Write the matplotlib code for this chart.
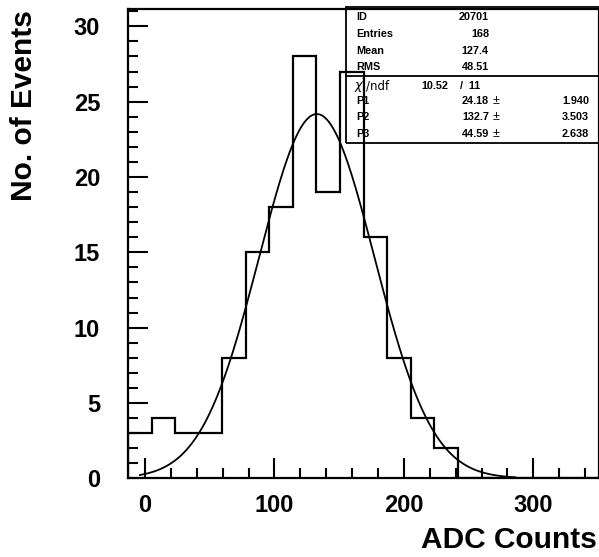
import numpy as np
import matplotlib.pyplot as plt
from matplotlib.ticker import MultipleLocator
from matplotlib.patches import Rectangle
from matplotlib.lines import Line2D

plt.rcParams['font.family'] = ['Liberation Sans', 'DejaVu Sans']
plt.rcParams['font.weight'] = 'bold'

# histogram: 20 bins
x_lo = -13.2
bin_w = 18.2
counts = [3, 4, 3, 3, 8, 15, 18, 28, 19, 27, 16, 8, 4, 2, 0, 0, 0, 0, 0, 0]

# gaussian fit parameters (from stats box)
p1, p2, p3 = 24.18, 132.7, 44.59
fit_lo, fit_hi = -4.0, 286.0

# stats box contents
stat_names = ['ID', 'Entries', 'Mean', 'RMS']
stat_vals = ['20701', '168', '127.4', '48.51']
chi2, ndf = '10.52', '11'
par_names = ['P1', 'P2', 'P3']
par_vals = ['24.18', '132.7', '44.59']
par_errs = ['1.940', '3.503', '2.638']

W, H = 599, 557
fig = plt.figure(figsize=(W / 100, H / 100), dpi=100)


def fx(px):
    return px / W


def fy(py):
    return 1 - py / H


ax = fig.add_axes([fx(128), fy(478.3), (W - 128) / W, (478.3 - 9) / H])

edges = x_lo + bin_w * np.arange(len(counts) + 1)
ax.stairs(counts, edges, color='k', lw=1.6)

xf = np.linspace(fit_lo, fit_hi, 400)
ax.plot(xf, p1 * np.exp(-0.5 * ((xf - p2) / p3) ** 2), color='k', lw=1.3)

ax.set_xlim(edges[0], edges[-1])
ax.set_ylim(0, 31.15)

ax.xaxis.set_major_locator(MultipleLocator(100))
ax.xaxis.set_minor_locator(MultipleLocator(20))
ax.yaxis.set_major_locator(MultipleLocator(5))
ax.yaxis.set_minor_locator(MultipleLocator(1))
ax.tick_params(which='both', direction='in', top=False, right=False, width=1.5,
               labelsize=17)
ax.tick_params(which='major', length=14.4)
ax.tick_params(which='minor', length=7.2)
ax.tick_params(axis='x', pad=11)
ax.tick_params(axis='y', pad=20)
for s in ax.spines.values():
    s.set_linewidth(1.6)

fig.text(fx(597), fy(548), 'ADC Counts', fontsize=21.5, ha='right', va='baseline')
fig.text(fx(32), fy(10), 'No. of Events', fontsize=21.5, rotation=90,
         rotation_mode='anchor', ha='right', va='baseline')

# stats box (transparent, histogram shows through)
fig.add_artist(Rectangle((fx(346), fy(143.3)), (620 - 346) / W, (143.3 - 7.3) / H,
                         transform=fig.transFigure, fill=False, ec='k', lw=1.3))
fig.add_artist(Line2D([fx(346), 1.0], [fy(76), fy(76)], transform=fig.transFigure,
                      color='k', lw=1.3))

fs = 7.8
row_y = [17.3, 34, 50.7, 66.7]
for name, val, y in zip(stat_names, stat_vals, row_y):
    fig.text(fx(356), fy(y), name, fontsize=fs, ha='left', va='center')
    fig.text(fx(489), fy(y), val, fontsize=fs, ha='right', va='center')

fig.text(fx(355), fy(86), '\u03c7', fontsize=9, fontweight='normal',
         family='DejaVu Sans', style='italic', ha='left', va='center')
fig.text(fx(362), fy(81), '2', fontsize=4, fontweight='normal', ha='left', va='center')
fig.text(fx(366), fy(86), '/ndf', fontsize=8.5, fontweight='normal',
         family='DejaVu Sans', ha='left', va='center')
fig.text(fx(448), fy(86), chi2, fontsize=fs, ha='right', va='center')
fig.text(fx(460), fy(86), '/  ' + ndf, fontsize=fs, ha='left', va='center')

par_y = [101, 116.7, 134]
for name, val, err, y in zip(par_names, par_vals, par_errs, par_y):
    fig.text(fx(356), fy(y), name, fontsize=fs, ha='left', va='center')
    fig.text(fx(489), fy(y), val, fontsize=fs, ha='right', va='center')
    fig.text(fx(493), fy(y), '\u00b1', fontsize=9, fontweight='normal',
             ha='left', va='center')
    fig.text(fx(589), fy(y), err, fontsize=fs, ha='right', va='center')

fig.savefig('out.png', dpi=100)
